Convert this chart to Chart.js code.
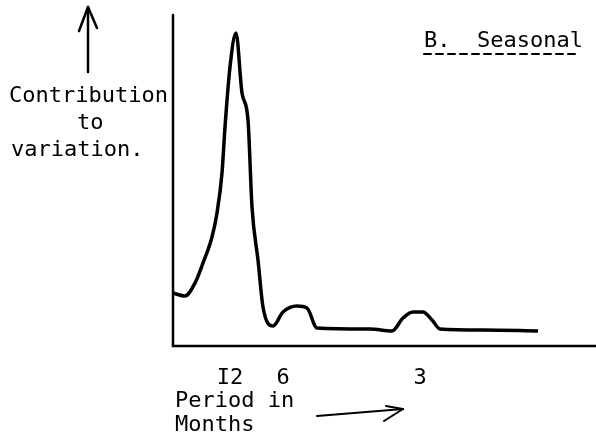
<!DOCTYPE html>
<html>
<head>
<meta charset="utf-8">
<script src="https://cdn.jsdelivr.net/npm/chart.js@4.4.1/dist/chart.umd.min.js"></script>
<style>
  html, body { margin: 0; padding: 0; background: #fff; }
  #wrap { width: 596px; height: 440px; }
</style>
</head>
<body>
<div id="wrap"><canvas id="chart" width="596" height="440"></canvas></div>
<script>
// position along the frequency axis (arbitrary units) and contribution
const positions = [0, 12, 22, 30, 39, 44, 49, 52, 57, 63, 69, 75, 79, 85, 90, 100, 110, 124, 134, 144, 197, 219, 230, 240, 250, 259, 267, 310, 365];
const contribution = [52, 49, 62, 82, 108, 132, 172, 218, 278, 312, 252, 225, 138, 85, 38, 19, 33, 39, 37, 17, 16, 14, 27, 33, 33, 25, 16, 15, 14];

const tickPositions = [57, 110, 247];
const tickLabels = ['I2', '6', '3'];

const yLabelLines = ['Contribution', 'to', 'variation.'];
const xLabelLines = ['Period in', 'Months'];
const panelTitle = 'B.  Seasonal';

const FONT = '22px "DejaVu Sans Mono", "Liberation Mono", monospace';

function arrow(c, x1, y1, x2, y2, head) {
  c.beginPath();
  c.moveTo(x1, y1);
  c.lineTo(x2, y2);
  c.stroke();
  c.beginPath();
  head.forEach(([hx, hy]) => {
    c.moveTo(x2, y2);
    c.lineTo(hx, hy);
  });
  c.stroke();
}

const decorations = {
  id: 'decorations',
  afterDraw(chart) {
    const c = chart.ctx;
    const a = chart.chartArea;
    const xs = chart.scales.x;
    c.save();
    c.strokeStyle = '#000';
    c.fillStyle = '#000';
    c.lineCap = 'round';

    // axes
    c.lineWidth = 2.5;
    c.beginPath();
    c.moveTo(a.left, a.top);
    c.lineTo(a.left, a.bottom + 1);
    c.lineTo(a.right, a.bottom + 1);
    c.stroke();

    c.font = FONT;
    c.textBaseline = 'alphabetic';

    // tick labels
    c.textAlign = 'center';
    tickPositions.forEach((p, i) => {
      c.fillText(tickLabels[i], xs.getPixelForValue(p), 384);
    });

    // axis titles
    c.textAlign = 'left';
    c.fillText(yLabelLines[0], 9, 102);
    c.fillText(yLabelLines[1], 77, 129);
    c.fillText(yLabelLines[2], 11, 156);
    c.fillText(xLabelLines[0], 175, 407);
    c.fillText(xLabelLines[1], 175, 431);

    // panel title with dashed underline
    c.fillText(panelTitle, 424, 47);
    c.lineWidth = 2;
    c.setLineDash([7, 5]);
    c.beginPath();
    c.moveTo(424, 54);
    c.lineTo(580, 54);
    c.stroke();
    c.setLineDash([]);

    // arrows
    c.lineWidth = 2.5;
    arrow(c, 88, 72, 88, 7, [[79, 31], [97, 28]]);
    c.lineWidth = 2;
    arrow(c, 317, 416, 403, 409, [[386, 406], [384, 421]]);

    c.restore();
  }
};

new Chart(document.getElementById('chart'), {
  type: 'line',
  data: {
    datasets: [{
      data: positions.map((x, i) => ({ x, y: contribution[i] })),
      borderColor: '#000',
      borderWidth: 3.5,
      pointRadius: 0,
      fill: false,
      cubicInterpolationMode: 'monotone',
      clip: false
    }]
  },
  options: {
    responsive: false,
    animation: false,
    layout: { padding: { left: 173, top: 15, right: 0, bottom: 95 } },
    plugins: { legend: { display: false }, tooltip: { enabled: false } },
    scales: {
      x: { type: 'linear', min: 0, max: 423, display: false },
      y: { type: 'linear', min: 0, max: 330, display: false }
    }
  },
  plugins: [decorations]
});
</script>
</body>
</html>
